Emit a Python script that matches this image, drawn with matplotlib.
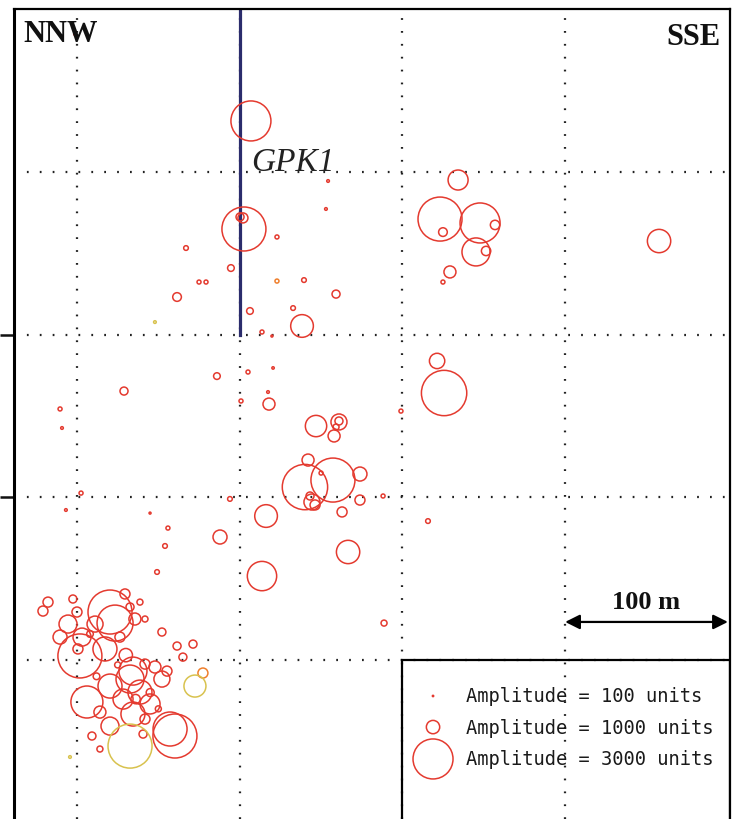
#!/usr/bin/env python3

import matplotlib

matplotlib.use("Agg")
import matplotlib.pyplot as plt
from matplotlib.patches import Rectangle

# event positions along the NNW-SSE section (m) and signal amplitude (units)
event_x = [
    106.9, 102.6, 102.0, 100.2, 154.3, 153.0, 122.9, 67.0, 94.6, 75.0,
    79.3, 61.5, 47.9, 106.3, 122.9, 139.5, 159.2, 132.8, 138.3, 113.7,
    119.8, -1.2,
    234.2, 223.1, 224.9, 247.7, 245.2, 256.9, 251.4, 229.2, 224.9, 357.7,
    221.3, 225.6, 199.1, 188.1, 215.7, 188.7, 86.0, 105.1, 120.5, 28.9,
    -10.4, -9.2, 100.8, 118.0, 117.4, 146.9, 161.0, 161.0, 159.2, 158.0,
    142.0, 140.1, 157.3, 173.9, 150.0, 144.4, 146.3, 143.2, 162.9, 173.9,
    116.2, 87.9, 166.6, 113.7, 94.0, 2.5, -6.8, 44.9, 55.9, 54.1, 49.2,
    -17.8, -20.9, -2.5, 0.0, -5.5, -10.4, 3.1, 0.6, 1.8, 20.3,
    23.4, 29.5, 38.7, 41.8, 26.4, 52.2, 61.5, 71.3, 65.1, 55.3,
    52.2, 77.4, 72.5, 32.6, 20.3, 38.7, 28.3, 6.1, 14.1, 20.3,
    34.4, 41.8, 40.6, 9.2, 14.1, -4.3, 32.6, 60.2, 57.2, 47.9,
    41.8, 34.4, 44.9, 17.2, 11.1, 32.6, 35.6,
    25.0, 45.0, 12.0, 30.0, 50.0, 8.0, 36.0,
]
event_y = [
    331.3, 264.9, 271.7, 272.3, 294.4, 277.2, 260.0, 253.2, 240.9, 232.3,
    232.3, 223.1, 207.7, 214.5, 232.9, 233.5, 224.9, 216.3, 205.3, 201.6,
    199.1, 384.7,
    295.0, 271.0, 263.0, 268.6, 250.8, 267.4, 251.4, 238.5, 232.3, 257.5,
    183.8, 164.1, 153.0, 100.8, 85.4, 22.7, 174.5, 177.0, 179.5, 165.3,
    154.3, 142.6, 159.2, 157.3, 164.7, 143.8, 146.3, 146.9, 143.2, 137.7,
    122.9, 106.3, 110.6, 114.3, 114.9, 97.1, 95.3, 100.8, 91.0, 98.3,
    88.5, 75.6, 66.4, 51.6, 99.0, 102.6, 92.2, 90.3, 81.1, 70.1, 54.1,
    35.6, 30.1, 37.5, 29.5, 22.1, 14.1, 14.1, 6.8, 2.5, 29.5,
    22.7, 40.6, 35.6, 25.2, 14.1, 17.2, 8.6, 9.8, 1.8, -6.8,
    -11.7, -8.0, -16.0, -11.7, -16.0, -19.7, -24.0, -25.8, -32.0, -40.6,
    -33.2, -36.3, -45.5, -46.7, -54.7, -59.6, -52.9, -46.7, -42.4, -4.3,
    -2.5, -6.8, -27.0, 6.8, 22.1, 32.6, 25.2,
    -3.0, -20.0, -10.0, 3.0, -30.0, 16.0, -24.0,
]
event_amp = [
    3000, 3300, 750, 600, 200, 200, 300, 350, 500, 300,
    300, 650, 200, 500, 300, 350, 600, 350, 1700, 300,
    150, 200,
    1500, 3300, 650, 3000, 2100, 700, 700, 900, 300, 1750,
    1150, 3400, 300, 300, 350, 450, 500, 300, 180, 600,
    300, 200, 300, 900, 200, 1600, 1200, 600, 450, 900,
    900, 3400, 3300, 1050, 300, 1200, 750, 600, 750, 750,
    1700, 1050, 1750, 2200, 350, 300, 200, 150, 300, 350, 350,
    750, 750, 600, 750, 1350, 1050, 1350, 750, 3300, 3300,
    2700, 750, 450, 450, 750, 600, 600, 600, 600, 750,
    1200, 750, 1650, 2100, 1800, 1800, 1500, 2400, 900, 1350,
    1800, 750, 600, 600, 450, 200, 3300, 3300, 2550, 900,
    750, 2100, 1500, 1800, 1200, 600, 900,
    450, 600, 500, 1000, 450, 500, 700,
]
# most events are red, a few were plotted in yellow / orange
yellow_events = [12, 95, 108, 109]
orange_events = [14, 94]

grid_x = [0, 100, 200, 300]
grid_y = [0, 100, 200, 300]
left_ticks = [100, 200]

well_x = [100, 100]
well_y = [200, 402]

legend_amp = [100, 1000, 3000]
legend_y = [-22.1, -41.2, -60.8]

XLIM = (-38.7, 401.3)
YLIM = (-97.7, 400.1)
DPI = 100

RED = "#e43a2f"
YELLOW = "#d8c24e"
ORANGE = "#ef7f2c"


def marker_area(amp):
    # circle radius grows linearly with amplitude: 3000 units -> 20 px
    diameter_pt = 2.0 * amp / 150.0 * 72.0 / DPI
    return diameter_pt ** 2


def main():
    fig = plt.figure(figsize=(7.39, 8.20), dpi=DPI)
    ax = fig.add_axes([14 / 739, 0.0, 716 / 739, 810 / 820])
    ax.set_xlim(*XLIM)
    ax.set_ylim(*YLIM)

    for gx in grid_x:
        ax.axvline(gx, color="#222222", lw=1.6, dashes=(0.8, 5.0), zorder=1)
    for gy in grid_y:
        ax.axhline(gy, color="#222222", lw=1.6, dashes=(0.8, 5.0), zorder=1)

    ax.plot(well_x, well_y, color="#2b2c6c", lw=2.3, zorder=2)
    ax.text(107, 301, "GPK1", family="Liberation Serif", style="italic",
            fontsize=24, color="#222222", ha="left", va="baseline", zorder=4)

    colors = []
    for i in range(len(event_x)):
        if i in yellow_events:
            colors.append(YELLOW)
        elif i in orange_events:
            colors.append(ORANGE)
        else:
            colors.append(RED)
    ax.scatter(event_x, event_y, s=[marker_area(a) for a in event_amp],
               facecolors="none", edgecolors=colors, linewidths=1.1, zorder=3)

    ax.text(0.013, 0.988, "NNW", transform=ax.transAxes, family="Liberation Serif",
            weight="bold", fontsize=22, ha="left", va="top", color="#111111")
    ax.text(0.987, 0.984, "SSE", transform=ax.transAxes, family="Liberation Serif",
            weight="bold", fontsize=22, ha="right", va="top", color="#111111")

    # scale bar
    ax.annotate("", xy=(300, 23.4), xytext=(400, 23.4),
                arrowprops=dict(arrowstyle="<|-|>", color="black", lw=1.6,
                                mutation_scale=22, shrinkA=0, shrinkB=0))
    ax.text(350, 29, "100 m", family="Liberation Serif", weight="bold",
            fontsize=19, ha="center", va="bottom", color="#111111")

    # amplitude key
    ax.add_patch(Rectangle((200, YLIM[0] - 5), XLIM[1] - 200, -YLIM[0] + 5,
                           fill=False, edgecolor="black", lw=1.6, zorder=2))
    ax.scatter([218.8] * len(legend_amp), legend_y,
               s=[marker_area(a) for a in legend_amp], facecolors="none",
               edgecolors=RED, linewidths=1.1, zorder=3)
    for amp, ly in zip(legend_amp, legend_y):
        ax.text(239, ly, f"Amplitude = {amp} units", family="DejaVu Sans Mono",
                fontsize=13.5, ha="left", va="center", color="#1a1a1a")

    ax.set_xticks([])
    ax.set_yticks(left_ticks)
    ax.set_yticklabels([])
    ax.tick_params(axis="y", direction="out", length=10, width=1.8, color="#111111")
    ax.spines["bottom"].set_visible(False)
    ax.spines["left"].set_linewidth(2.2)
    ax.spines["top"].set_linewidth(1.6)
    ax.spines["right"].set_linewidth(1.6)

    fig.savefig("out.png", dpi=DPI)
    return 0


if __name__ == "__main__":
    raise SystemExit(main())
